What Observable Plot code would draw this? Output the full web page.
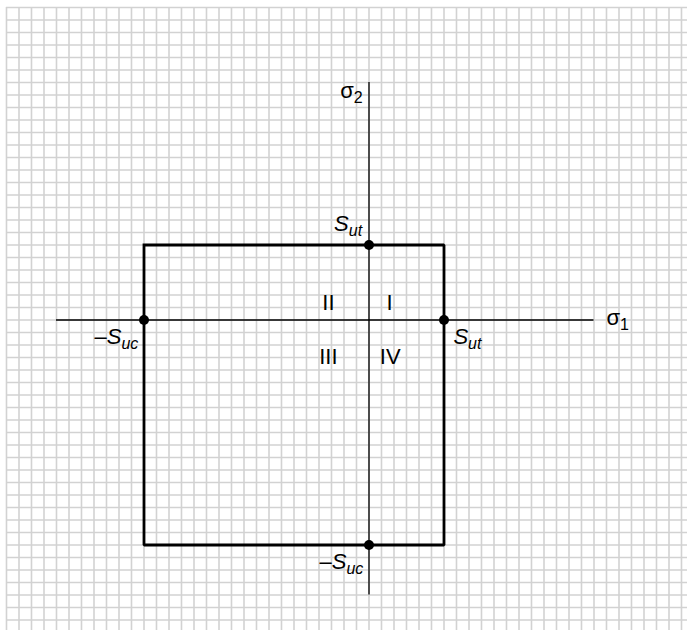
<!DOCTYPE html>
<html>
<head>
<meta charset="utf-8">
<script src="https://cdn.jsdelivr.net/npm/d3@7"></script>
<script src="https://cdn.jsdelivr.net/npm/@observablehq/plot@0.6"></script>
<style>
  html, body { margin: 0; padding: 0; background: #fff; }
  svg { display: block; }
</style>
</head>
<body>
<div id="chart"></div>
<script>
// --- data (grid units; one grid square = one unit) ---
const Sut = 6;            // ultimate tensile strength
const Suc = 18;           // ultimate compressive strength
const squareX = [-Suc, Sut, Sut, -Suc, -Suc];
const squareY = [Sut, Sut, -Suc, -Suc, Sut];
const pointX = [0, Sut, -Suc, 0];
const pointY = [Sut, 0, 0, -Suc];
const gridX = d3.range(-29, 26);
const gridY = d3.range(-24, 26);
const axisX = [-25, 18];   // sigma1 axis extent
const axisY = [-22, 19];   // sigma2 axis extent

const labelMain = ["σ", "σ", "S", "S", "–S", "–S", "I", "II", "III", "IV"];
const labelSub  = ["2", "1", "ut", "ut", "uc", "uc", "", "", "", ""];
const labelItalic = [false, false, true, true, true, true, false, false, false, false];
const labelX = [-0.5, 19.0, -0.55, 6.75, -18.45, -0.45, 1.65, -3.25, -3.25, 1.7];
const labelY = [18.3, 0.15, 7.65, -1.35, -1.35, -19.35, 1.35, 1.35, -2.95, -2.95];
const labelAnchor = ["end", "start", "end", "start", "end", "end", "middle", "middle", "middle", "middle"];

const labels = labelMain.map((m, i) => ({
  main: m, sub: labelSub[i], italic: labelItalic[i],
  x: labelX[i], y: labelY[i], anchor: labelAnchor[i]
}));
const square = squareX.map((x, i) => ({x, y: squareY[i]}));
const points = pointX.map((x, i) => ({x, y: pointY[i]}));

const W = 687, H = 630, unit = 12.5;
const x0 = 368.5, y0 = 319.5; // pixel position of origin
const xDomain = [(0 - x0) / unit, (W - x0) / unit];
const yDomain = [(y0 - H) / unit, (y0 - 0) / unit];

const svg = Plot.plot({
  width: W,
  height: H,
  margin: 0,
  x: {domain: xDomain, axis: null},
  y: {domain: yDomain, axis: null},
  style: {fontFamily: "'Liberation Sans', Arial, sans-serif", background: "#fff"},
  marks: [
    Plot.ruleX(gridX, {x: d => d, y1: 25, y2: yDomain[0], stroke: "#d2d2d2", strokeWidth: 1.6}),
    Plot.ruleY(gridY, {y: d => d, x1: -29, x2: xDomain[1], stroke: "#d2d2d2", strokeWidth: 1.6}),
    Plot.ruleY([0], {x1: axisX[0], x2: axisX[1], stroke: "#000", strokeWidth: 1.3}),
    Plot.ruleX([0], {y1: axisY[0], y2: axisY[1], stroke: "#000", strokeWidth: 1.3}),
    Plot.line(square, {x: "x", y: "y", stroke: "#000", strokeWidth: 2.8, strokeLinejoin: "miter", strokeLinecap: "square"}),
    Plot.dot(points, {x: "x", y: "y", r: 5, fill: "#000", stroke: null}),
    Plot.text(labels, {x: "x", y: "y", text: d => d.main + d.sub, textAnchor: d => d.anchor, fontSize: 22, fill: "#000", className: "lbl"})
  ]
});

// turn subscripts into tspans
d3.select(svg).selectAll(".lbl text").each(function (_, j) {
  const d = labels[j];
  const t = d3.select(this);
  t.attr("text-anchor", d.anchor).attr("font-size", 22);
  t.text("");
  if (d.main.startsWith("–")) {
    t.append("tspan").text("–");
    t.append("tspan").attr("font-style", "italic").text(d.main.slice(1));
  } else {
    t.append("tspan").attr("font-style", d.italic ? "italic" : "normal").text(d.main);
  }
  if (d.sub) {
    t.append("tspan")
      .attr("font-size", 16)
      .attr("font-style", d.italic ? "italic" : "normal")
      .attr("dy", "0.3em")
      .text(d.sub);
  }
});

document.getElementById("chart").appendChild(svg);
</script>
</body>
</html>
